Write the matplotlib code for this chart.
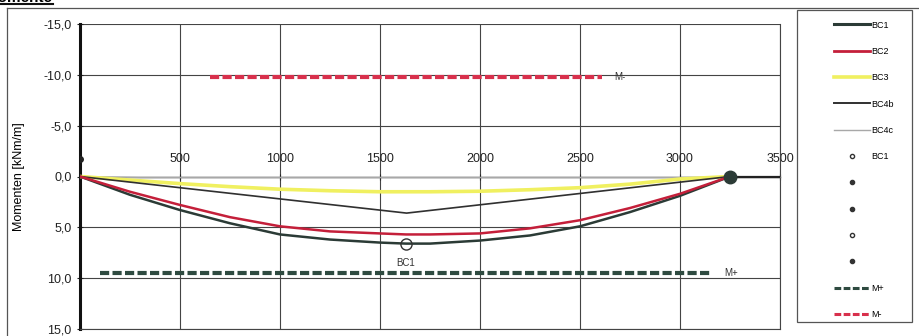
import matplotlib
matplotlib.use("Agg")
import matplotlib.pyplot as plt
from matplotlib.lines import Line2D
from matplotlib.patches import Rectangle
from matplotlib.ticker import FuncFormatter

plt.rcParams['font.family'] = ['Liberation Sans', 'DejaVu Sans']

# Stützweite x [mm] und Momente [kNm/m]
x_bc = [0, 250, 500, 750, 1000, 1250, 1500, 1630, 1750, 2000, 2250, 2500, 2750, 3000, 3250]
bc1 = [0, 1.8, 3.3, 4.6, 5.7, 6.2, 6.5, 6.6, 6.6, 6.3, 5.8, 4.9, 3.5, 1.9, 0]
bc2 = [0, 1.5, 2.8, 4.0, 4.9, 5.4, 5.6, 5.7, 5.7, 5.6, 5.1, 4.3, 3.1, 1.7, 0]
bc3 = [0, 0.35, 0.7, 1.0, 1.25, 1.4, 1.5, 1.5, 1.5, 1.45, 1.3, 1.1, 0.75, 0.25, 0]
x_bc4b = [0, 1633, 3250]
bc4b = [0, 3.6, 0]
x_bc4c = [0, 300, 3100, 3250]
bc4c = [0, 0.1, 0.1, 0]

bc1_max_x, bc1_max = 1630, 6.6
punkt_x = [0, 3250]
punkt_y = [-1.7, 0]

m_plus_x = [100, 3150]
m_plus = [9.5, 9.5]
m_minus_x = [650, 2610]
m_minus = [-9.8, -9.8]

x_ticks = [500, 1000, 1500, 2000, 2500, 3000, 3500]
y_ticks = [-15, -10, -5, 0, 5, 10, 15]

W, H = 919, 336
fig = plt.figure(figsize=(W / 100, H / 100), dpi=100)
ax = fig.add_axes([80 / W, 7 / H, 700 / W, 305 / H])

c_bc1 = '#2b3b36'
c_bc2 = '#c41f3a'
c_bc3 = '#f0f060'
c_bc4b = '#303030'
c_bc4c = '#a8a8a8'
c_mp = '#2e4a40'
c_mm = '#d8304c'

ax.plot(x_bc4c, bc4c, color=c_bc4c, lw=1.0, zorder=3)
ax.plot(x_bc, bc3, color=c_bc3, lw=2.6, zorder=3)
ax.plot(x_bc4b, bc4b, color=c_bc4b, lw=1.2, zorder=4)
ax.plot(x_bc, bc2, color=c_bc2, lw=1.8, zorder=5)
ax.plot(x_bc, bc1, color=c_bc1, lw=1.8, zorder=4)
ax.plot(m_plus_x, m_plus, color=c_mp, lw=3, ls=(0, (2.2, 0.8)), zorder=3)
ax.plot(m_minus_x, m_minus, color=c_mm, lw=3, ls=(0, (2.2, 0.8)), zorder=3)
ax.text(m_plus_x[1] + 70, m_plus[1], 'M+', fontsize=7, va='center', color='#333333')
ax.text(m_minus_x[1] + 60, m_minus[1], 'M-', fontsize=7, va='center', color='#333333')

ax.plot([bc1_max_x], [bc1_max], 'o', mfc='none', mec='#333333', ms=8, mew=1, zorder=6)
ax.text(bc1_max_x, bc1_max + 1.9, 'BC1', fontsize=7, ha='center', va='center', color='#333333')
ax.plot(punkt_x[:1], punkt_y[:1], 'o', color='#222222', ms=4, zorder=6)
ax.plot(punkt_x[1:], punkt_y[1:], 'o', color='#2b3b36', ms=9, zorder=6)
ax.plot([punkt_x[1], 3500], [0, 0], color='#222222', lw=1.6, zorder=4)

ax.set_xlim(0, 3500)
ax.set_ylim(15, -15)
ax.set_xticks(x_ticks)
ax.set_yticks(y_ticks)
ax.yaxis.set_major_formatter(FuncFormatter(lambda v, p: f'{v:.1f}'.replace('.', ',')))
ax.grid(True, color='#444444', lw=0.8)
ax.set_axisbelow(True)

ax.spines['top'].set_position(('data', 0))
ax.spines['top'].set_color('#666666')
ax.spines['top'].set_linewidth(1.0)
ax.xaxis.set_ticks_position('top')
ax.xaxis.set_label_position('top')
ax.spines['left'].set_linewidth(2.2)
ax.spines['left'].set_color('#111111')
ax.spines['bottom'].set_color('#444444')
ax.spines['right'].set_color('#444444')
ax.tick_params(axis='x', direction='inout', length=5, pad=6, labelsize=9, colors='#222222')
ax.tick_params(axis='y', direction='inout', length=5, labelsize=9, colors='#222222')
ax.set_ylabel('Momenten [kNm/m]', fontsize=9, labelpad=8)
ax.yaxis.set_label_coords(-0.078, 0.5)

# Rahmen und Überschrift
fig.add_artist(Line2D([7 / W, 7 / W], [0, 1 - 8 / H], transform=fig.transFigure, color='#555555', lw=0.9))
fig.add_artist(Line2D([7 / W, 1], [1 - 8 / H, 1 - 8 / H], transform=fig.transFigure, color='#555555', lw=0.9))
fig.text(52 / W, 1 - 1.5 / H, 'Momente', fontsize=11, fontweight='bold', ha='right', va='baseline')
fig.add_artist(Line2D([0, 53 / W], [1 - 4 / H, 1 - 4 / H], transform=fig.transFigure, color='#111111', lw=1.5))

# Legende
fig.add_artist(Rectangle((797 / W, 1 - 322 / H), 115 / W, 312 / H, transform=fig.transFigure,
                         fill=False, edgecolor='#555555', lw=0.9))
handles = [
    Line2D([], [], color=c_bc1, lw=2.2),
    Line2D([], [], color=c_bc2, lw=2.0),
    Line2D([], [], color=c_bc3, lw=2.6),
    Line2D([], [], color=c_bc4b, lw=1.4),
    Line2D([], [], color=c_bc4c, lw=1.0),
    Line2D([], [], ls='none', marker='o', mfc='none', mec='#333333', ms=3),
    Line2D([], [], ls='none', marker='o', color='#333333', ms=3),
    Line2D([], [], ls='none', marker='o', color='#333333', ms=3),
    Line2D([], [], ls='none', marker='o', mfc='none', mec='#333333', ms=3),
    Line2D([], [], ls='none', marker='o', color='#333333', ms=3),
    Line2D([], [], color=c_mp, lw=2.2, ls=(0, (2.2, 0.8))),
    Line2D([], [], color=c_mm, lw=2.2, ls=(0, (2.2, 0.8))),
]
labels = ['BC1', 'BC2', 'BC3', 'BC4b', 'BC4c', 'BC1', '', '', '', '', 'M+', 'M-']
fig.legend(handles, labels, loc='upper left', bbox_to_anchor=(830 / W, 1 - 17 / H),
           frameon=False, fontsize=6.5, handlelength=4.0, handletextpad=0.2,
           labelspacing=1.92, borderaxespad=0)

fig.savefig('out.png', dpi=100)
